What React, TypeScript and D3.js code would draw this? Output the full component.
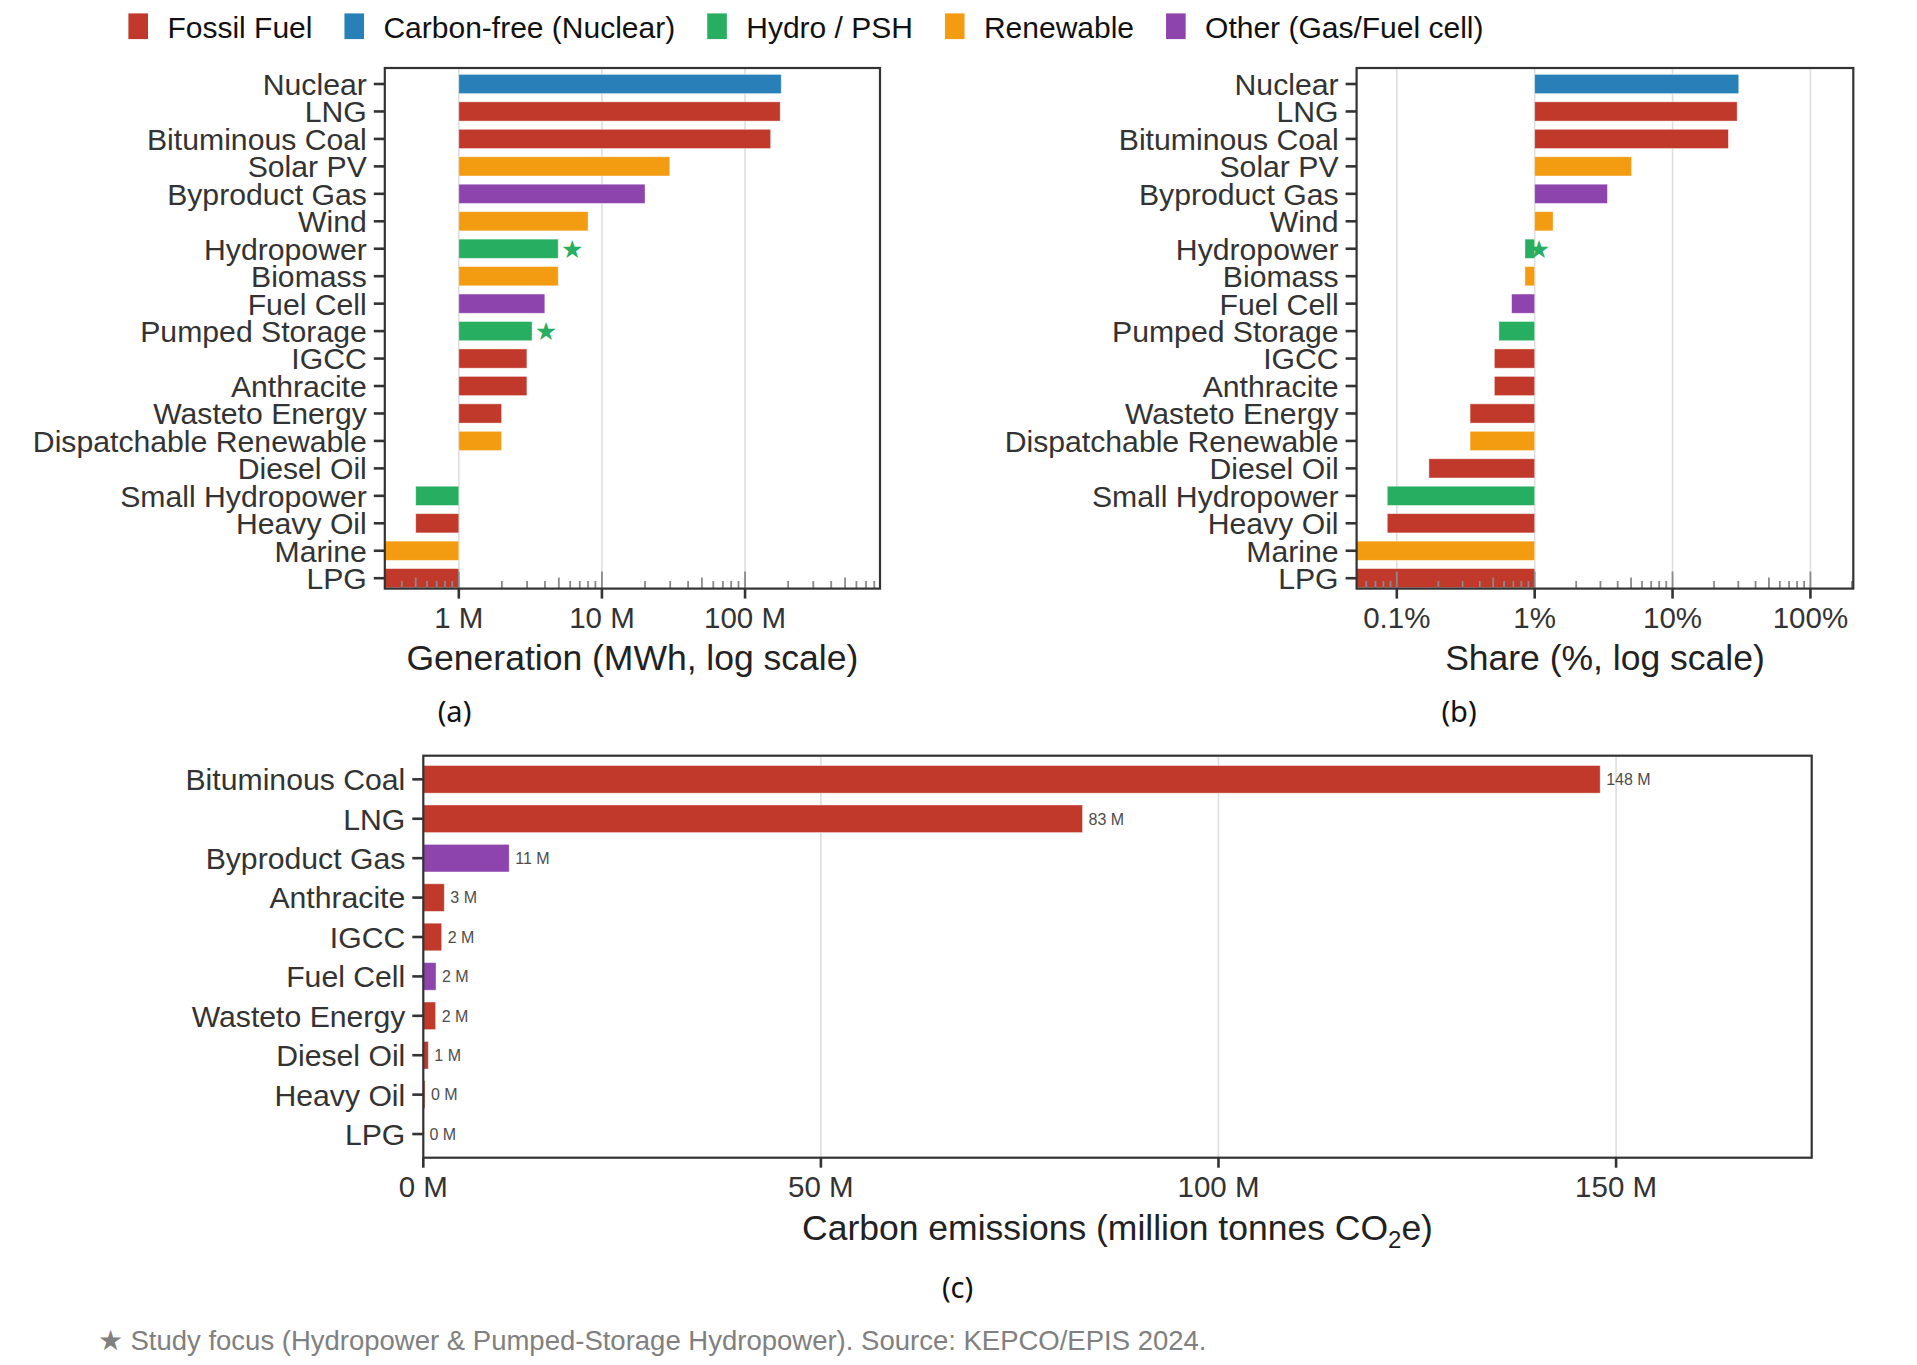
import React, { FC, useEffect, useRef } from "react"
import * as d3 from "d3"

// panels (a) and (b): generation by source
const sources = [
  "Nuclear",
  "LNG",
  "Bituminous Coal",
  "Solar PV",
  "Byproduct Gas",
  "Wind",
  "Hydropower",
  "Biomass",
  "Fuel Cell",
  "Pumped Storage",
  "IGCC",
  "Anthracite",
  "Wasteto Energy",
  "Dispatchable Renewable",
  "Diesel Oil",
  "Small Hydropower",
  "Heavy Oil",
  "Marine",
  "LPG",
]
const sourceGroups = [
  "Carbon-free (Nuclear)",
  "Fossil Fuel",
  "Fossil Fuel",
  "Renewable",
  "Other (Gas/Fuel cell)",
  "Renewable",
  "Hydro / PSH",
  "Renewable",
  "Other (Gas/Fuel cell)",
  "Hydro / PSH",
  "Fossil Fuel",
  "Fossil Fuel",
  "Fossil Fuel",
  "Renewable",
  "Fossil Fuel",
  "Hydro / PSH",
  "Fossil Fuel",
  "Renewable",
  "Fossil Fuel",
]
const generationMWh = [
  179e6, 176e6, 151e6, 29.8e6, 20.0e6, 8.0e6, 4.95e6, 4.95e6, 3.99e6, 3.25e6,
  2.99e6, 2.99e6, 1.99e6, 1.99e6, 1.0e6, 0.5e6, 0.5e6, 0.2e6, 0.05e6,
]
const sharePct = [
  30.2, 29.4, 25.4, 5.04, 3.37, 1.36, 0.85, 0.85, 0.68, 0.55, 0.51, 0.51, 0.34,
  0.34, 0.171, 0.0853, 0.0853, 0.034, 0.008,
]
const studyFocus = ["Hydropower", "Pumped Storage"]

// panel (c): emissions
const emissionSources = [
  "Bituminous Coal",
  "LNG",
  "Byproduct Gas",
  "Anthracite",
  "IGCC",
  "Fuel Cell",
  "Wasteto Energy",
  "Diesel Oil",
  "Heavy Oil",
  "LPG",
]
const emissionGroups = [
  "Fossil Fuel",
  "Fossil Fuel",
  "Other (Gas/Fuel cell)",
  "Fossil Fuel",
  "Fossil Fuel",
  "Other (Gas/Fuel cell)",
  "Fossil Fuel",
  "Fossil Fuel",
  "Fossil Fuel",
  "Fossil Fuel",
]
const emissionsMt = [148.0, 82.9, 10.8, 2.64, 2.31, 1.6, 1.55, 0.63, 0.21, 0.02]

const groups = [
  "Fossil Fuel",
  "Carbon-free (Nuclear)",
  "Hydro / PSH",
  "Renewable",
  "Other (Gas/Fuel cell)",
]
const groupColors = ["#C0392B", "#2980B9", "#27AE60", "#F39C12", "#8E44AD"]

const genTicks = [1e6, 1e7, 1e8]
const shareTicks = [0.1, 1, 10, 100]
const emissionTicks = [0, 50, 100, 150]

const FONT = "'Liberation Sans', Arial, sans-serif"
const INK = "#333333"

type Row = { name: string; group: string; value: number }

const App: FC = () => {
  const svgRef = useRef<SVGSVGElement>(null)

  useEffect(() => {
    document.body.style.margin = "0"
    const element = svgRef.current
    if (!element) return
    const svg = d3.select(element)
    svg.selectAll("*").remove()

    const color = d3.scaleOrdinal<string, string>().domain(groups).range(groupColors)

    const genRows: Row[] = sources.map((name, i) => ({
      name,
      group: sourceGroups[i],
      value: generationMWh[i],
    }))
    const shareRows: Row[] = sources.map((name, i) => ({
      name,
      group: sourceGroups[i],
      value: sharePct[i],
    }))
    const emissionRows: Row[] = emissionSources.map((name, i) => ({
      name,
      group: emissionGroups[i],
      value: emissionsMt[i],
    }))

    // 1. legend
    const legend = svg.append("g")
    let lx = 128.4
    groups.forEach((g) => {
      legend
        .append("rect")
        .attr("x", lx)
        .attr("y", 13.4)
        .attr("width", 19.6)
        .attr("height", 25.7)
        .attr("fill", color(g))
      const t = legend
        .append("text")
        .attr("x", lx + 39)
        .attr("y", 38)
        .attr("font-family", FONT)
        .attr("font-size", 30)
        .attr("fill", "#111")
        .text(g)
      const w = (t.node() as SVGTextElement).getComputedTextLength()
      lx += 39 + w + 32
    })

    // shared frame drawing
    const drawFrame = (
      left: number,
      top: number,
      right: number,
      bottom: number,
    ) => {
      svg
        .append("rect")
        .attr("x", left)
        .attr("y", top)
        .attr("width", right - left)
        .attr("height", bottom - top)
        .attr("fill", "none")
        .attr("stroke", INK)
        .attr("stroke-width", 2.2)
    }

    const drawYAxis = (
      y: d3.ScalePoint<string>,
      left: number,
      names: string[],
    ) => {
      const g = svg.append("g")
      names.forEach((n) => {
        g.append("line")
          .attr("x1", left - 11)
          .attr("x2", left)
          .attr("y1", y(n)!)
          .attr("y2", y(n)!)
          .attr("stroke", INK)
          .attr("stroke-width", 2.6)
        g.append("text")
          .attr("x", left - 18)
          .attr("y", y(n)!)
          .attr("dy", "0.36em")
          .attr("text-anchor", "end")
          .attr("font-family", FONT)
          .attr("font-size", 30.2)
          .attr("fill", INK)
          .text(n)
      })
    }

    const drawXAxis = (
      x: (v: number) => number,
      ticks: number[],
      fmt: (v: number) => string,
      bottom: number,
    ) => {
      const g = svg.append("g")
      ticks.forEach((t) => {
        g.append("line")
          .attr("x1", x(t))
          .attr("x2", x(t))
          .attr("y1", bottom)
          .attr("y2", bottom + 10)
          .attr("stroke", INK)
          .attr("stroke-width", 2.6)
        g.append("text")
          .attr("x", x(t))
          .attr("y", bottom + 39.5)
          .attr("text-anchor", "middle")
          .attr("font-family", FONT)
          .attr("font-size", 29.5)
          .attr("fill", INK)
          .text(fmt(t))
      })
    }

    const drawGrid = (
      x: (v: number) => number,
      ticks: number[],
      top: number,
      bottom: number,
    ) => {
      ticks.forEach((t) => {
        svg
          .append("line")
          .attr("x1", x(t))
          .attr("x2", x(t))
          .attr("y1", top)
          .attr("y2", bottom)
          .attr("stroke", "#dedede")
          .attr("stroke-width", 1.6)
      })
    }

    // 2. log panels (a) and (b)
    const logPanel = (
      id: string,
      rows: Row[],
      domain: [number, number],
      left: number,
      right: number,
      baseline: number,
      ticks: number[],
      fmt: (v: number) => string,
      title: string,
      tag: string,
      tagX: number,
    ) => {
      const top = 68
      const bottom = 588.6
      const x = d3.scaleLog().domain(domain).range([left, right])
      const y = d3.scalePoint<string>().domain(sources).range([84, 578.2])
      const barH = y.step() * 0.7

      svg
        .append("clipPath")
        .attr("id", id)
        .append("rect")
        .attr("x", left)
        .attr("y", top)
        .attr("width", right - left)
        .attr("height", bottom - top)

      drawGrid(x, ticks, top, bottom)

      const plot = svg.append("g").attr("clip-path", `url(#${id})`)
      plot
        .selectAll("rect.bar")
        .data(rows)
        .join("rect")
        .attr("class", "bar")
        .attr("x", (d) => Math.min(x(d.value), x(baseline)))
        .attr("width", (d) => Math.abs(x(d.value) - x(baseline)))
        .attr("y", (d) => y(d.name)! - barH / 2)
        .attr("height", barH)
        .attr("fill", (d) => color(d.group))
        .attr("stroke", "#ffffff")
        .attr("stroke-opacity", 0.5)
        .attr("stroke-width", 0.8)

      plot
        .selectAll("text.star")
        .data(rows.filter((d) => studyFocus.includes(d.name)))
        .join("text")
        .attr("class", "star")
        .attr("x", (d) => x(d.value) + 14)
        .attr("y", (d) => y(d.name)!)
        .attr("dy", "0.36em")
        .attr("text-anchor", "middle")
        .attr("font-family", "'DejaVu Sans', sans-serif")
        .attr("font-size", 25)
        .attr("fill", "#27AE60")
        .text("★")

      // log ticks along the bottom
      const [d0, d1] = domain
      const e0 = Math.floor(Math.log10(d0))
      const e1 = Math.ceil(Math.log10(d1))
      for (let e = e0; e <= e1; e++) {
        for (let k = 1; k <= 9; k++) {
          const v = k * Math.pow(10, e)
          if (v < d0 || v > d1) continue
          const len = k === 1 ? 17 : k === 5 ? 11 : 7.5
          plot
            .append("line")
            .attr("x1", x(v))
            .attr("x2", x(v))
            .attr("y1", bottom)
            .attr("y2", bottom - len)
            .attr("stroke", "#8a8a8a")
            .attr("stroke-width", 1.8)
        }
      }

      drawFrame(left, top, right, bottom)
      drawYAxis(y, left, sources)
      drawXAxis(x, ticks, fmt, bottom)

      svg
        .append("text")
        .attr("x", (left + right) / 2)
        .attr("y", bottom + 81.5)
        .attr("text-anchor", "middle")
        .attr("font-family", FONT)
        .attr("font-size", 35.5)
        .attr("fill", "#222")
        .text(title)

      svg
        .append("text")
        .attr("x", tagX)
        .attr("y", 722)
        .attr("text-anchor", "middle")
        .attr("font-family", "'Noto Sans', sans-serif")
        .attr("font-size", 29)
        .attr("fill", "#111")
        .text(tag)
    }

    logPanel(
      "clip-a",
      genRows,
      [3.04e5, 8.77e8],
      384.8,
      880,
      1e6,
      genTicks,
      (v) => `${d3.format("d")(v / 1e6)} M`,
      "Generation (MWh, log scale)",
      "(a)",
      454.5,
    )

    logPanel(
      "clip-b",
      shareRows,
      [0.0511, 204.6],
      1356.6,
      1853.3,
      1,
      shareTicks,
      (v) => `${v}%`,
      "Share (%, log scale)",
      "(b)",
      1459,
    )

    // 3. emissions panel (c)
    const cLeft = 423.3
    const cRight = 1811.7
    const cTop = 755.7
    const cBottom = 1157.7
    const xc = d3.scaleLinear().domain([0, 174.6]).range([cLeft, cRight])
    const yc = d3
      .scalePoint<string>()
      .domain(emissionSources)
      .range([cTop, cBottom])
      .padding(0.6)
    const barHc = yc.step() * 0.7

    drawGrid(xc, emissionTicks, cTop, cBottom)

    svg
      .append("g")
      .selectAll("rect")
      .data(emissionRows)
      .join("rect")
      .attr("x", xc(0))
      .attr("width", (d) => xc(d.value) - xc(0))
      .attr("y", (d) => yc(d.name)! - barHc / 2)
      .attr("height", barHc)
      .attr("fill", (d) => color(d.group))
      .attr("stroke", "#ffffff")
      .attr("stroke-opacity", 0.5)
      .attr("stroke-width", 0.8)

    svg
      .append("g")
      .selectAll("text")
      .data(emissionRows)
      .join("text")
      .attr("x", (d) => xc(d.value) + 6)
      .attr("y", (d) => yc(d.name)!)
      .attr("dy", "0.36em")
      .attr("font-family", FONT)
      .attr("font-size", 16)
      .attr("fill", "#4d4d4d")
      .text((d) => `${Math.round(d.value)} M`)

    drawFrame(cLeft, cTop, cRight, cBottom)
    drawYAxis(yc, cLeft, emissionSources)
    drawXAxis(xc, emissionTicks, (v) => `${v} M`, cBottom)

    const ct = svg
      .append("text")
      .attr("x", (cLeft + cRight) / 2)
      .attr("y", cBottom + 82.3)
      .attr("text-anchor", "middle")
      .attr("font-family", FONT)
      .attr("font-size", 35.5)
      .attr("fill", "#222")
    ct.append("tspan").text("Carbon emissions (million tonnes CO")
    ct.append("tspan").attr("font-size", 24).attr("dy", 8).text("2")
    ct.append("tspan").attr("dy", -8).text("e)")

    svg
      .append("text")
      .attr("x", 957.6)
      .attr("y", 1298)
      .attr("text-anchor", "middle")
      .attr("font-family", "'Noto Sans', sans-serif")
      .attr("font-size", 29)
      .attr("fill", "#111")
      .text("(c)")

    // 4. footnote
    svg
      .append("text")
      .attr("x", 97.8)
      .attr("y", 1350)
      .attr("font-family", FONT)
      .attr("font-size", 27.5)
      .attr("fill", "#808080")
      .text(
        "★ Study focus (Hydropower & Pumped-Storage Hydropower). Source: KEPCO/EPIS 2024.",
      )
  }, [])

  return (
    <svg
      ref={svgRef}
      width={1917}
      height={1365}
      style={{ display: "block", background: "#ffffff" }}
    />
  )
}

export default App
